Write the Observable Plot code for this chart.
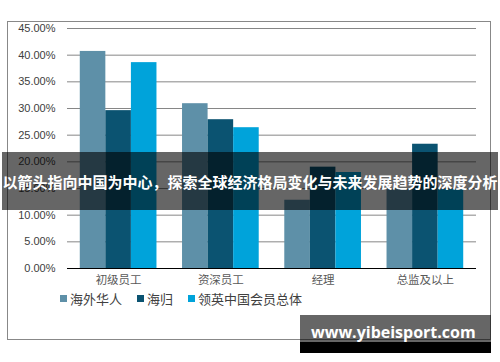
<!DOCTYPE html>
<html>
<head>
<meta charset="utf-8">
<script src="https://cdn.jsdelivr.net/npm/d3@7"></script>
<script src="https://cdn.jsdelivr.net/npm/@observablehq/plot@0.6"></script>
<style>
  html, body { margin: 0; padding: 0; background: #fff; }
  #wrap { position: relative; width: 500px; height: 362px; overflow: hidden; font-family: "Liberation Sans", "Noto Sans CJK SC", sans-serif; }
  #frame { position: absolute; left: 7px; top: 21px; width: 482px; height: 317px; border: 1px solid #888; box-sizing: content-box; pointer-events: none; }
  #legend { position: absolute; left: 60px; top: 289px; display: flex; align-items: center; font-family: "Noto Sans CJK SC", sans-serif; font-size: 13px; color: #404040; white-space: nowrap; }
  #legend .item { display: flex; align-items: center; margin-right: 15px; }
  #legend .sw { width: 7px; height: 7px; margin-right: 3px; }
  #banner { position: absolute; left: 2px; top: 152px; width: 496px; height: 58px; background: rgba(0,0,0,0.6); color: #fff; font-family: "Noto Sans CJK SC", sans-serif; font-weight: bold; font-size: 15px; display: flex; align-items: center; justify-content: center; white-space: nowrap; }
  #wm { position: absolute; left: 300px; top: 315px; width: 191px; height: 38px; background: linear-gradient(to bottom, rgba(0,0,0,0.6) 71%, #000 71%); color: #fff; font-family: "Open Sans", sans-serif; font-weight: bold; font-size: 16px; }
  #wm span { position: absolute; left: 11px; top: 6px; }
  svg { position: absolute; left: 0; top: 0; }
</style>
</head>
<body>
<div id="wrap"></div>
<script>
const categories = ["初级员工", "资深员工", "经理", "总监及以上"];
const seriesNames = ["海外华人", "海归", "领英中国会员总体"];
const overseasChinese = [40.7, 30.9, 12.8, 14.8];
const returnees = [29.6, 27.9, 19.0, 23.3];
const linkedinChina = [38.6, 26.4, 18.0, 14.8];
const yTicks = [0, 5, 10, 15, 20, 25, 30, 35, 40, 45];
const seriesColors = ["#5e90a8", "#0b5371", "#00a3da"];
const bannerText = "以箭头指向中国为中心，探索全球经济格局变化与未来发展趋势的深度分析";
const watermarkText = "www.yibeisport.com";

const seriesValues = [overseasChinese, returnees, linkedinChina];
const key = (c, s) => c + "|" + s;
const rows = [];
const xDomain = [];
categories.forEach((c, i) => {
  seriesNames.forEach((s, j) => {
    rows.push({cat: c, series: s, value: seriesValues[j][i], key: key(c, s)});
    xDomain.push(key(c, s));
  });
  if (i < categories.length - 1) xDomain.push("gap" + i);
});

const chart = Plot.plot({
  width: 500,
  height: 362,
  marginLeft: 67,
  marginRight: 24,
  marginTop: 28,
  marginBottom: 94,
  style: {background: "transparent", fontFamily: "Liberation Sans, Noto Sans CJK SC, sans-serif", fontSize: "11px"},
  x: {domain: xDomain, paddingInner: 0, paddingOuter: 0.5, round: false, axis: null},
  y: {domain: [0, 45], axis: null},
  color: {domain: seriesNames, range: seriesColors},
  marks: [
    Plot.ruleY(yTicks.filter(t => t > 0), {stroke: "#868686", strokeWidth: 1}),
    Plot.barY(rows, {x: "key", y: "value", fill: "series"}),
    Plot.ruleY([0], {stroke: "#000", strokeWidth: 1}),
    Plot.axisY(yTicks, {tickSize: 0, tickPadding: 12, tickFormat: d => d.toFixed(2) + "%", fontSize: 11, fill: "#404040", label: null}),
    Plot.text(categories, {x: c => key(c, seriesNames[1]), text: d => d, frameAnchor: "bottom", dy: 15, fontSize: 11.5, fill: "#595959", fontFamily: "Noto Sans CJK SC, sans-serif"})
  ]
});

const wrap = document.getElementById("wrap");
const frame = document.createElement("div");
frame.id = "frame";
wrap.appendChild(frame);
wrap.appendChild(chart);

const legend = document.createElement("div");
legend.id = "legend";
seriesNames.forEach((s, j) => {
  const item = document.createElement("div");
  item.className = "item";
  const sw = document.createElement("div");
  sw.className = "sw";
  sw.style.background = seriesColors[j];
  const t = document.createElement("span");
  t.textContent = s;
  item.appendChild(sw);
  item.appendChild(t);
  legend.appendChild(item);
});
wrap.appendChild(legend);

const banner = document.createElement("div");
banner.id = "banner";
banner.textContent = bannerText;
wrap.appendChild(banner);

const wm = document.createElement("div");
wm.id = "wm";
const wms = document.createElement("span");
wms.textContent = watermarkText;
wm.appendChild(wms);
wrap.appendChild(wm);
</script>
</body>
</html>
